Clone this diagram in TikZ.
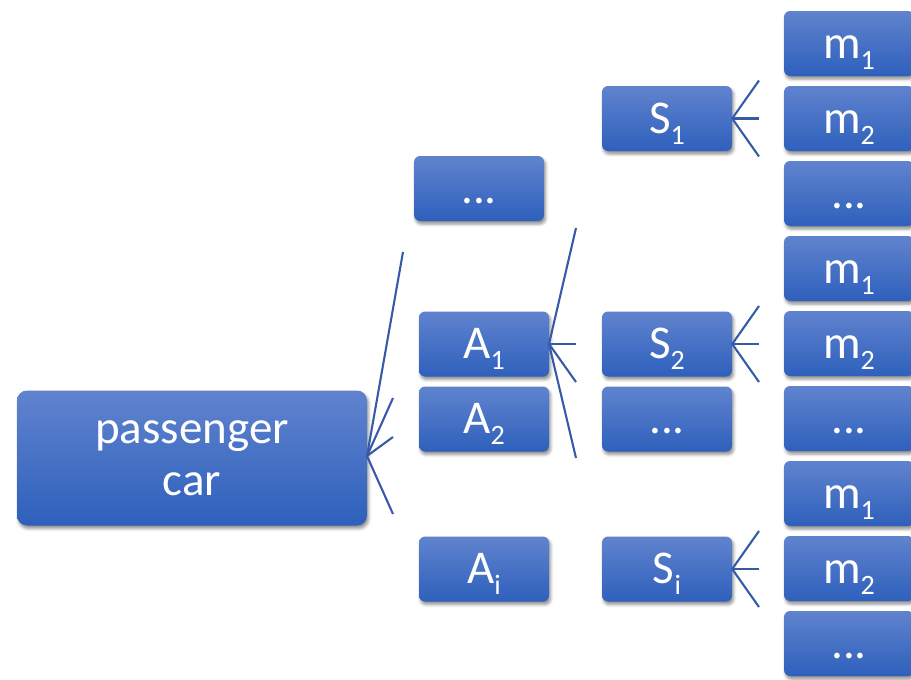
\documentclass[tikz,border=0pt]{standalone}
\usepackage{fontspec}
\setmainfont{Carlito}
\usetikzlibrary{shadows.blur}
\definecolor{boxtop}{RGB}{96,131,206}
\definecolor{boxbot}{RGB}{46,96,188}
\definecolor{linec}{RGB}{55,90,168}
\newcommand\subx[1]{\raisebox{-0.24em}{\fontsize{28}{28}\selectfont #1}}
\tikzset{
  x=1pt, y=-1pt,
  box/.style={rectangle, rounded corners=6pt, top color=boxtop, bottom color=boxbot,
    draw=none, text=white, minimum width=130pt, minimum height=65pt,
    font=\fontsize{47}{52}\selectfont, text height=29pt, text depth=0pt, inner sep=0pt,
    blur shadow={shadow xshift=1.5pt, shadow yshift=-3pt, shadow blur radius=3pt, shadow opacity=45}},
  bigbox/.style={box, rounded corners=10pt, minimum width=350pt, minimum height=135pt,
    align=center, text height=, text depth=},
  conn/.style={draw=linec, line width=2.1pt},
}
\begin{document}
\begin{tikzpicture}
\useasboundingbox (0,0) rectangle (911,680);
% level 0
\node[bigbox] (pc) at (192,458) {passenger\\car};
% level A
\node[box] (adots) at (479,188.5) {...};
\node[box] (a1) at (484,344) {A\subx{1}};
\node[box] (a2) at (484,419) {A\subx{2}};
\node[box] (ai) at (484,569) {A\subx{i}};
% level S
\node[box] (s1) at (667,118.5) {S\subx{1}};
\node[box] (s2) at (667,344) {S\subx{2}};
\node[box] (sdots) at (667,419) {...};
\node[box] (si) at (667,569) {S\subx{i}};
% level m
\node[box] (m11) at (849,43.5) {m\subx{1}};
\node[box] (m12) at (849,118.5) {m\subx{2}};
\node[box] (m1d) at (849,193.5) {...};
\node[box] (m21) at (849,268.5) {m\subx{1}};
\node[box] (m22) at (849,343.5) {m\subx{2}};
\node[box] (m2d) at (849,418.5) {...};
\node[box] (m31) at (849,493.5) {m\subx{1}};
\node[box] (m32) at (849,568.5) {m\subx{2}};
\node[box] (m3d) at (849,643.5) {...};
% connector ends
\coordinate (p0) at (367,456);
\coordinate (p1) at (403,252);
\coordinate (p2) at (393,398);
\coordinate (p3) at (393,437);
\coordinate (p4) at (393,514);
\coordinate (q0) at (549,344);
\coordinate (q1) at (576,228);
\coordinate (q2) at (576,344);
\coordinate (q3) at (576,382);
\coordinate (q4) at (576,458);
\foreach \n/\yy in {s1/118.5, s2/344, si/569}{
  \coordinate (\n-u) at (759,\yy-38);
  \coordinate (\n-m) at (759,\yy);
  \coordinate (\n-d) at (759,\yy+38);
  \draw[conn] (\n-u) -- (\n.east) -- (\n-d);
  \draw[conn] (\n-m) -- (\n.east);
}
\draw[conn] (p1) -- (p0) -- (p4);
\draw[conn] (p2) -- (p0);
\draw[conn] (p3) -- (p0);
\draw[conn] (q1) -- (q0) -- (q4);
\draw[conn] (q2) -- (q0);
\draw[conn] (q3) -- (q0);
\end{tikzpicture}
\end{document}
